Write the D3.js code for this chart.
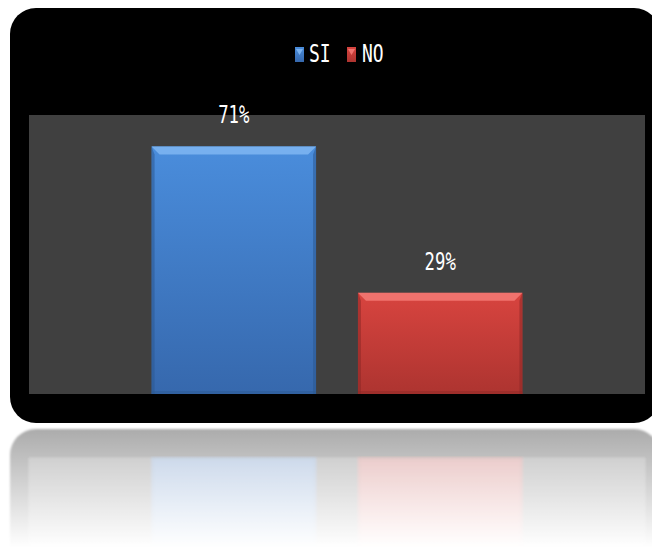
<!DOCTYPE html>
<html>
<head>
<meta charset="utf-8">
<script src="https://cdn.jsdelivr.net/npm/d3@7"></script>
<style>
  html, body { margin: 0; padding: 0; background: #ffffff; }
  svg { display: block; }
</style>
</head>
<body>
<svg id="chart" width="652" height="548"></svg>
<script>
// Survey answers, percent
const categories = ["SI", "NO"];
const values = [71, 29];
const yDomain = [0, 80];

const palette = {
  SI: { top: "#4a8ddc", bottom: "#3668ad", bevel: "#7fb6f2", edge: "#2c5890" },
  NO: { top: "#d8443f", bottom: "#ad3430", bevel: "#f47a76", edge: "#8c2826" }
};

const W = 652, H = 548;
const frame = { x: 10, y: 8, w: 650, h: 415, r: 26 };
const plot = { left: 29, right: 645, top: 115, bottom: 394 };
const mirrorY = 425;

const svg = d3.select("#chart");
const defs = svg.append("defs");

// Vertical gradients for each bar colour
categories.forEach(c => {
  const g = defs.append("linearGradient")
    .attr("id", "grad-" + c).attr("x1", 0).attr("y1", 0).attr("x2", 0).attr("y2", 1);
  g.append("stop").attr("offset", "0%").attr("stop-color", palette[c].top);
  g.append("stop").attr("offset", "100%").attr("stop-color", palette[c].bottom);
});

// Fade for the floor reflection
const fade = defs.append("linearGradient")
  .attr("id", "fade").attr("gradientUnits", "userSpaceOnUse")
  .attr("x1", 0).attr("y1", mirrorY).attr("x2", 0).attr("y2", H);
fade.append("stop").attr("offset", "0%").attr("stop-color", "#fff").attr("stop-opacity", 0.34);
fade.append("stop").attr("offset", "35%").attr("stop-color", "#fff").attr("stop-opacity", 0.22);
fade.append("stop").attr("offset", "100%").attr("stop-color", "#fff").attr("stop-opacity", 0.0);
defs.append("mask").attr("id", "fadeMask").attr("maskUnits", "userSpaceOnUse")
  .attr("x", 0).attr("y", 0).attr("width", W).attr("height", H)
  .append("rect").attr("x", 0).attr("y", mirrorY).attr("width", W).attr("height", H - mirrorY)
  .attr("fill", "url(#fade)");
defs.append("filter").attr("id", "soft").append("feGaussianBlur").attr("stdDeviation", 0.8);

// Chart body, reused for the reflection
const chart = defs.append("g").attr("id", "chartBody");

chart.append("rect")
  .attr("x", frame.x).attr("y", frame.y)
  .attr("width", frame.w).attr("height", frame.h)
  .attr("rx", frame.r).attr("ry", frame.r)
  .attr("fill", "#000");

chart.append("rect")
  .attr("x", plot.left).attr("y", plot.top)
  .attr("width", plot.right - plot.left).attr("height", plot.bottom - plot.top)
  .attr("fill", "#404040");

const x = d3.scaleBand()
  .domain(categories)
  .range([plot.left, plot.right])
  .paddingInner(0.203)
  .paddingOuter(0.594);

const y = d3.scaleLinear().domain(yDomain).range([plot.bottom, plot.top]);

const data = categories.map((c, i) => ({ key: c, value: values[i] }));

const bars = chart.append("g").selectAll("g.bar")
  .data(data).join("g").attr("class", "bar");

bars.each(function(d) {
  const g = d3.select(this);
  const x0 = x(d.key), bw = x.bandwidth();
  const y0 = y(d.value), y1 = y(0);
  const b = 8, s = 3;
  const col = palette[d.key];
  g.append("rect")
    .attr("x", x0).attr("y", y0).attr("width", bw).attr("height", y1 - y0)
    .attr("fill", `url(#grad-${d.key})`);
  // top bevel
  g.append("path")
    .attr("d", `M${x0},${y0}L${x0 + bw},${y0}L${x0 + bw - b},${y0 + b}L${x0 + b},${y0 + b}Z`)
    .attr("fill", col.bevel).attr("opacity", 0.85);
  // side edges
  g.append("path")
    .attr("d", `M${x0},${y0}L${x0 + s},${y0 + b}L${x0 + s},${y1}L${x0},${y1}Z`)
    .attr("fill", col.edge).attr("opacity", 0.55);
  g.append("path")
    .attr("d", `M${x0 + bw},${y0}L${x0 + bw - s},${y0 + b}L${x0 + bw - s},${y1}L${x0 + bw},${y1}Z`)
    .attr("fill", col.edge).attr("opacity", 0.55);
  g.append("rect")
    .attr("x", x0).attr("y", y1 - 3).attr("width", bw).attr("height", 3)
    .attr("fill", col.edge).attr("opacity", 0.45);
});

// Value labels
chart.append("g").selectAll("text")
  .data(data).join("text")
  .attr("transform", d => `translate(${x(d.key) + x.bandwidth() / 2},${y(d.value) - 23}) scale(0.72,1)`)
  .attr("text-anchor", "middle")
  .attr("font-family", "'DejaVu Sans Mono', monospace")
  .attr("font-size", 24)
  .attr("fill", "#ffffff")
  .text(d => d.value + "%");

// Legend
const legendItems = [
  { key: "SI", mx: 295, tx: 309 },
  { key: "NO", mx: 347, tx: 362 }
];
const legend = chart.append("g");
legendItems.forEach(it => {
  const col = palette[it.key];
  legend.append("rect")
    .attr("x", it.mx).attr("y", 47).attr("width", 9).attr("height", 15)
    .attr("fill", `url(#grad-${it.key})`);
  legend.append("path")
    .attr("d", `M${it.mx + 1},${49}L${it.mx + 8},${49}L${it.mx + 4.5},${55}Z`)
    .attr("fill", col.bevel).attr("opacity", 0.9);
  legend.append("text")
    .attr("transform", `translate(${it.tx},62) scale(0.75,1)`)
    .attr("font-family", "'DejaVu Sans Mono', monospace")
    .attr("font-size", 24)
    .attr("fill", "#ffffff")
    .text(it.key);
});

// Reflection on the floor
svg.append("g")
  .attr("mask", "url(#fadeMask)")
  .append("use")
  .attr("href", "#chartBody")
  .attr("filter", "url(#soft)")
  .attr("transform", `translate(0,${2 * mirrorY + 2}) scale(1,-1)`);

// The chart itself
svg.append("use").attr("href", "#chartBody");
</script>
</body>
</html>
